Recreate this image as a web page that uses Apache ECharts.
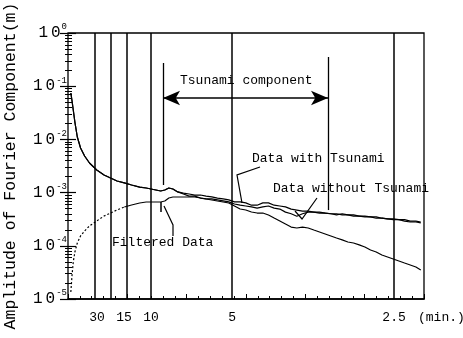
<!DOCTYPE html>
<html>
<head>
<meta charset="utf-8">
<script src="https://cdn.jsdelivr.net/npm/echarts@6/dist/echarts.min.js"></script>
<style>html,body{margin:0;padding:0;background:#fff}#c{width:463px;height:338px}</style>
</head>
<body>
<div id="c"></div>
<script>
// Frequency (cycles/min) sample points, shared by all curves
const freq = [0.001, 0.0025, 0.004, 0.006, 0.009, 0.013, 0.018, 0.024, 0.033, 0.042,
  0.05, 0.058, 0.067, 0.076, 0.086, 0.094, 0.1, 0.106, 0.112, 0.117,
  0.122, 0.127, 0.133, 0.14, 0.147, 0.154, 0.161, 0.168, 0.175, 0.182,
  0.189, 0.196, 0.203, 0.21, 0.217, 0.224, 0.231, 0.238, 0.245, 0.252,
  0.259, 0.266, 0.273, 0.28, 0.287, 0.294, 0.301, 0.308, 0.315, 0.322,
  0.329, 0.336, 0.343, 0.35, 0.357, 0.364, 0.371, 0.378, 0.385, 0.392,
  0.399, 0.406, 0.413, 0.42, 0.427, 0.433];

// Amplitude (m)
const withTsunami = [0.0745, 0.0527, 0.0357, 0.0212, 0.0111, 0.00689, 0.00488, 0.0036, 0.00266, 0.00214,
  0.00188, 0.00165, 0.00152, 0.00139, 0.00127, 0.00122, 0.00117, 0.00112, 0.00107, 0.00112,
  0.00122, 0.00117, 0.00103, 0.00098, 0.00094, 0.0009, 0.0009, 0.00086, 0.00083, 0.00079,
  0.00076, 0.00073, 0.00067, 0.00067, 0.00064, 0.00058, 0.00058, 0.00064, 0.00064, 0.00058,
  0.00056, 0.00054, 0.00049, 0.00047, 0.00045, 0.00045, 0.00043, 0.00043, 0.00041, 0.0004,
  0.0004, 0.00038, 0.00038, 0.00038, 0.00036, 0.00036, 0.00035, 0.00033, 0.00033, 0.00032,
  0.00032, 0.00031, 0.00031, 0.00029, 0.00029, 0.00028];

const withoutTsunami = [0.0745, 0.0527, 0.0357, 0.0212, 0.0111, 0.00689, 0.00488, 0.0036, 0.00266, 0.00214,
  0.00188, 0.00165, 0.00152, 0.00139, 0.00127, 0.00122, 0.00117, 0.00112, 0.00107, 0.00112,
  0.00122, 0.00117, 0.00103, 0.00094, 0.00086, 0.00086, 0.00079, 0.00076, 0.00076, 0.00073,
  0.0007, 0.00067, 0.00061, 0.00058, 0.00056, 0.00054, 0.00051, 0.00054, 0.00056, 0.00051,
  0.00049, 0.00043, 0.0004, 0.00036, 0.0004, 0.00043, 0.00043, 0.00041, 0.00041, 0.0004,
  0.00038, 0.0004, 0.00038, 0.00036, 0.00036, 0.00035, 0.00035, 0.00035, 0.00033, 0.00032,
  0.00031, 0.00031, 0.00029, 0.00028, 0.00028, 0.00027];

const filtered = [0.0000135, 0.0000283, 0.0000496, 0.0000765, 0.000113, 0.000153, 0.00019, 0.000236, 0.000293, 0.000363,
  0.000413, 0.000471, 0.000536, 0.000584, 0.000637, 0.000666, 0.000666, 0.000666, 0.000666, 0.000695,
  0.000792, 0.000827, 0.000827, 0.000827, 0.000827, 0.000827, 0.000792, 0.000758, 0.000726, 0.000695,
  0.000666, 0.000637, 0.00056, 0.000492, 0.000471, 0.000432, 0.000413, 0.000413, 0.000379, 0.000333,
  0.000293, 0.000257, 0.000225, 0.000216, 0.000225, 0.000216, 0.000198, 0.000182, 0.000167, 0.000153,
  0.00014, 0.000129, 0.000118, 0.000113, 0.000104, 0.000095, 0.0000834, 0.0000765, 0.0000671, 0.0000616,
  0.0000565, 0.0000518, 0.0000475, 0.0000436, 0.00004, 0.0000351];
const filteredDashedEnd = 12; // index where dotted part ends

// Period axis (minutes)
const labelPeriods = [30, 15, 10, 5, 2.5];
const labelTexts = ['30', '15', '10', '5', '2.5'];
const linePeriods = [30, 20, 15, 10, 5, 2.5];

// Tsunami component band (cycles/min) and bracket heights (m)
const bandFreq = [0.1148, 0.3185];
const arrowAmp = 0.06;
const leftBar = [0.273, 0.00139];
const rightBar = [0.354, 0.00047];

const FONT = '"Liberation Mono", "DejaVu Sans Mono", monospace';
const pairs = (xs, ys) => xs.map((x, i) => [x, ys[i]]);

const majorVals = [1e-5, 1e-4, 1e-3, 1e-2, 1e-1, 1];
const minorVals = [];
for (let e = -5; e < 0; e++) for (let k = 2; k <= 9; k++) minorVals.push(k * Math.pow(10, e));
const xMajorTicks = [0, 5, 10, 15, 20, 25, 30];
const xMinorTicks = [];
for (let i = 1; i < 30; i++) if (i % 5) xMinorTicks.push(i);

const yBase = { type: 'log', logBase: 10, min: 1e-5, max: 1, position: 'left', splitLine: { show: false }, axisLine: { show: false, onZero: false }, axisLabel: { show: false } };
const xTickBase = { type: 'value', min: 0, max: 30, position: 'bottom', splitLine: { show: false }, axisLine: { show: false, onZero: false }, axisLabel: { show: false } };
const line = { color: '#000', width: 1.2 };
const tk = (vals, inside, len, w) => ({ show: true, inside: inside, length: len, customValues: vals, lineStyle: { color: '#000', width: w } });

const chart = echarts.init(document.getElementById('c'), null, { renderer: 'canvas' });
chart.setOption({
  animation: false,
  backgroundColor: '#fff',
  grid: { left: 68, top: 33, width: 356, height: 266, show: true, borderColor: '#000', borderWidth: 1.3, backgroundColor: 'transparent', outerBoundsMode: 'none', containLabel: false },
  xAxis: [
    {
      type: 'value', min: -0.0025, max: 0.437, position: 'bottom',
      axisLine: { show: true, onZero: false, lineStyle: { color: '#000', width: 1.5 } },
      axisTick: { show: false },
      splitLine: { show: false },
      axisLabel: {
        customValues: labelPeriods.map(p => 1 / p),
        formatter: (v) => { const i = labelPeriods.findIndex(p => Math.abs(1 / p - v) < 1e-6); return i >= 0 ? labelTexts[i] : ''; },
        color: '#000', fontFamily: FONT, fontSize: 13, margin: 12
      }
    },
    Object.assign({}, xTickBase, { axisTick: tk(xMajorTicks, true, 5, 1) }),
    Object.assign({}, xTickBase, { axisTick: tk(xMinorTicks, true, 3, 1) })
  ],
  yAxis: [
    Object.assign({}, yBase, {
      name: 'Amplitude of Fourier Component(m)', nameLocation: 'middle', nameGap: 49,
      nameTextStyle: { color: '#000', fontFamily: FONT, fontSize: 16.5 },
      axisTick: tk(majorVals, false, 8, 1.2),
      axisLabel: {
        show: true, margin: 1, color: '#000',
        customValues: majorVals,
        formatter: (v) => '{o|1}{z|0}{e|' + Math.round(Math.log10(v)) + '}',
        rich: {
          o: { fontFamily: FONT, fontSize: 16, color: '#000' },
          z: { fontFamily: FONT, fontSize: 16, color: '#000', padding: [0, 0, 0, 3] },
          e: { fontFamily: FONT, fontSize: 9, color: '#000', padding: [0, 0, 12, 1] }
        }
      }
    }),
    Object.assign({}, yBase, { axisTick: tk(majorVals, true, 8, 1.2) }),
    Object.assign({}, yBase, { axisTick: tk(minorVals, false, 3, 1) }),
    Object.assign({}, yBase, { axisTick: tk(minorVals, true, 4, 1) })
  ],
  series: [
    {
      name: 'Data with Tsunami', type: 'line', showSymbol: false, data: pairs(freq, withTsunami), lineStyle: line,
      markLine: {
        silent: true, symbol: 'none', label: { show: false },
        lineStyle: { color: '#000', width: 1.5, type: 'solid' },
        data: linePeriods.map(p => ({ xAxis: 1 / p }))
      }
    },
    {
      name: 'Data without Tsunami', type: 'line', showSymbol: false, data: pairs(freq, withoutTsunami), lineStyle: line,
      markLine: {
        silent: true, symbol: ['arrow', 'arrow'], symbolSize: [11, 17], label: { show: false },
        lineStyle: { color: '#000', width: 1.5, type: 'solid' },
        itemStyle: { color: '#000' },
        data: [[{ coord: [bandFreq[0], arrowAmp] }, { coord: [bandFreq[1], arrowAmp] }]]
      }
    },
    {
      name: 'Filtered Data', type: 'line', showSymbol: false,
      data: pairs(freq, filtered).slice(filteredDashedEnd), lineStyle: line,
      markLine: {
        silent: true, symbol: 'none', label: { show: false },
        lineStyle: { color: '#000', width: 1.3, type: 'solid' },
        data: [
          [{ coord: [bandFreq[0], leftBar[0]] }, { coord: [bandFreq[0], leftBar[1]] }],
          [{ coord: [bandFreq[1], rightBar[0]] }, { coord: [bandFreq[1], rightBar[1]] }]
        ]
      }
    },
    {
      name: 'Filtered Data (low)', type: 'line', showSymbol: false,
      data: pairs(freq, filtered).slice(0, filteredDashedEnd + 1),
      lineStyle: { color: '#000', width: 1.2, type: [2, 2] }
    }
  ],
  graphic: [
    { type: 'text', left: 180, top: 74, style: { text: 'Tsunami component', font: '13px ' + FONT, fill: '#000' } },
    { type: 'text', left: 252, top: 152, style: { text: 'Data with Tsunami', font: '13px ' + FONT, fill: '#000' } },
    { type: 'text', left: 273, top: 182, style: { text: 'Data without Tsunami', font: '13px ' + FONT, fill: '#000' } },
    { type: 'text', left: 112, top: 236, style: { text: 'Filtered Data', font: '13px ' + FONT, fill: '#000' } },
    { type: 'text', left: 418, top: 311, style: { text: '(min.)', font: '13px ' + FONT, fill: '#000' } },
    { type: 'polyline', shape: { points: [[260, 167], [237, 175], [242, 203]] }, style: { stroke: '#000', lineWidth: 1.2, fill: null } },
    { type: 'polyline', shape: { points: [[295, 211], [302, 219], [317, 198]] }, style: { stroke: '#000', lineWidth: 1.2, fill: null } },
    { type: 'polyline', shape: { points: [[173, 236], [173, 225], [164, 206]] }, style: { stroke: '#000', lineWidth: 1.2, fill: null } },
    { type: 'line', shape: { x1: 161, y1: 202, x2: 161, y2: 212 }, style: { stroke: '#000', lineWidth: 1.5 } }
  ]
});
</script>
</body>
</html>
